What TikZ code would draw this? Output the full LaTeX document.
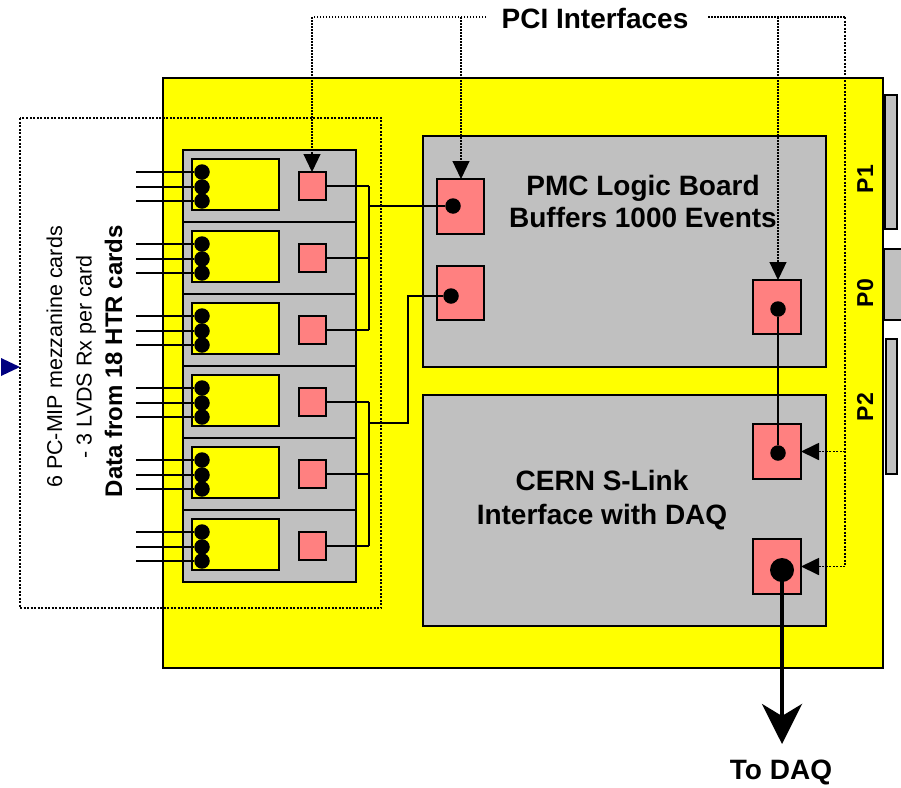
\documentclass[tikz,border=0pt]{standalone}
\usepackage{fontspec}
\setmainfont{Liberation Sans}
\usetikzlibrary{arrows.meta}
\definecolor{boardyellow}{HTML}{FFFF00}
\definecolor{boxgray}{HTML}{C0C0C0}
\definecolor{padpink}{HTML}{FF8080}
\definecolor{arrownavy}{HTML}{000080}
\tikzset{
 rectbox/.style={anchor=north west, inner sep=0pt, outer sep=0pt, draw=black},
 boardbox/.style={rectbox, fill=boardyellow, line width=2pt},
 graybox/.style={rectbox, fill=boxgray, line width=2.5pt},
 cardbox/.style={rectbox, fill=boxgray, line width=2pt},
 innerbox/.style={rectbox, fill=boardyellow, line width=2pt},
 padbox/.style={rectbox, fill=padpink, line width=1.5pt},
 conbox/.style={rectbox, fill=boxgray, line width=2pt},
 blackdot/.style={circle, fill=black, inner sep=0pt, minimum size=15.5pt},
 bigdot/.style={circle, fill=black, inner sep=0pt, minimum size=24pt},
 wire/.style={line width=2pt, draw=black},
 pciline/.style={line width=1.2pt, dash pattern=on 1.5pt off 1.5pt},
 pcithick/.style={line width=1.8pt, dash pattern=on 2pt off 1.5pt},
 leftdot/.style={line width=2pt, dash pattern=on 2pt off 1.5pt},
 tri/.tip={Triangle[length=18pt,width=17pt]},
 bigtext/.style={font=\fontsize{28}{32}\selectfont\bfseries, anchor=base, inner sep=0pt},
 plabel/.style={font=\fontsize{23}{24}\selectfont\bfseries, anchor=base, rotate=90, inner sep=0pt},
 sidetext/.style={font=\fontsize{21.5}{24}\selectfont, anchor=base, rotate=90, inner sep=0pt},
 sidebold/.style={font=\fontsize{24}{26}\selectfont\bfseries, anchor=base, rotate=90, inner sep=0pt},
}
\begin{document}
\begin{tikzpicture}[x=1pt,y=-1pt]
\useasboundingbox (0,0) rectangle (901,787);

% edge connectors
\node[conbox, minimum width=12pt, minimum height=134pt] (conP1) at (885,95) {};
\node[conbox, minimum width=25pt, minimum height=71pt] (conP0) at (884,249) {};
\node[conbox, minimum width=11pt, minimum height=135pt] (conP2) at (886,339) {};

% board
\node[boardbox, minimum width=720pt, minimum height=590pt] (board) at (163,78) {};

% left dotted frame and marker
\draw[leftdot] (20,118) rectangle (381,608);
\fill[arrownavy] (1,358) -- (20,367) -- (1,376) -- cycle;

% PMC and CERN boxes
\node[graybox, minimum width=403pt, minimum height=231pt] (pmc) at (423,136) {};
\node[graybox, minimum width=403pt, minimum height=231pt] (cern) at (423,395) {};

% pads in PMC and CERN
\node[padbox, minimum width=47pt, minimum height=55pt] (sqA) at (437,179) {};
\node[padbox, minimum width=47pt, minimum height=54pt] (sqB) at (437,266) {};
\node[padbox, minimum width=48pt, minimum height=54pt] (sqC) at (753,280) {};
\node[padbox, minimum width=48pt, minimum height=55pt] (sqD) at (753,424) {};
\node[padbox, minimum width=48pt, minimum height=55pt] (sqE) at (753,539) {};
\node[blackdot] (dA) at (453,206) {};
\node[blackdot] (dB) at (451,296) {};
\node[blackdot] (dC) at (778,309) {};
\node[blackdot] (dD) at (778,453) {};
\node[bigdot] (dE) at (782,570) {};

% mezzanine cards
\foreach \i in {0,...,5}{
  \pgfmathsetmacro{\t}{150+72*\i}
  \node[cardbox, minimum width=173pt, minimum height=72pt] (card\i) at (183,\t) {};
  \node[innerbox, minimum width=87pt, minimum height=51pt] (in\i) at (192,\t+9) {};
  \node[padbox, minimum width=27pt, minimum height=28pt] (sq\i) at (299,\t+22) {};
  \foreach \j/\dy in {a/22,b/37,c/51}{
    \node[blackdot] (d\i\j) at (202,\t+\dy) {};
    \coordinate (w\i\j) at (136,\t+\dy);
    \draw[wire] (w\i\j) -- (d\i\j);
  }
  \coordinate (b\i) at (369,\t+36);
  \draw[wire] (sq\i.east) -- (b\i);
}

% buses to PMC
\draw[wire] (b0) -- (b2);
\draw[wire] (b3) -- (b5);
\coordinate (j1) at (369,206);
\draw[wire] (j1) -- (dA);
\coordinate (j2) at (369,423);
\coordinate (k2) at (408,423);
\coordinate (k3) at (408,296);
\draw[wire] (j2) -- (k2) -- (k3) -- (dB);
\draw[wire] (dC) -- (dD);

% to DAQ
\coordinate (daqtip) at (782,744);
\draw[line width=4pt, -{Stealth[length=40pt,width=40pt,inset=12pt]}] (dE.center) -- (daqtip);

% PCI dotted lines
\coordinate (pL) at (312,17);
\coordinate (pLend) at (486,17);
\coordinate (p2) at (461,17);
\coordinate (pR0) at (708,17);
\coordinate (p3) at (778,17);
\coordinate (pR) at (845,17);
\draw[pciline] (pLend) -- (pL);
\draw[pciline, -tri] (pL) -- (pL |- sq0.north);
\draw[pciline, -tri] (p2) -- (p2 |- sqA.north);
\draw[pciline] (pR0) -- (pR);
\draw[pciline, -tri] (p3) -- (p3 |- sqC.north);
\draw[pcithick] (pR) -- (pR |- sqE.east);
\draw[pcithick, -tri] (pR |- sqD.east) -- (sqD.east);
\draw[pcithick, -tri] (pR |- sqE.east) -- (sqE.east);

% texts
\node[bigtext] (pcit) at (595,28) {PCI Interfaces};
\node[bigtext] (pmc1) at (643,195) {PMC Logic Board};
\node[bigtext] (pmc2) at (643,227) {Buffers 1000 Events};
\node[bigtext] (cern1) at (602,490) {CERN S-Link};
\node[bigtext] (cern2) at (602,524) {Interface with DAQ};
\node[bigtext] (daq) at (781,779) {To DAQ};
\node[plabel] (lP1) at (873,179) {P1};
\node[plabel] (lP0) at (873,293) {P0};
\node[plabel] (lP2) at (873,407) {P2};
\node[sidetext] (s1) at (62,357) {6 PC-MIP mezzanine cards};
\node[sidetext] (s2) at (91.5,357) {- 3 LVDS Rx per card};
\node[sidebold] (s3) at (122,361) {Data from 18 HTR cards};
\end{tikzpicture}
\end{document}
